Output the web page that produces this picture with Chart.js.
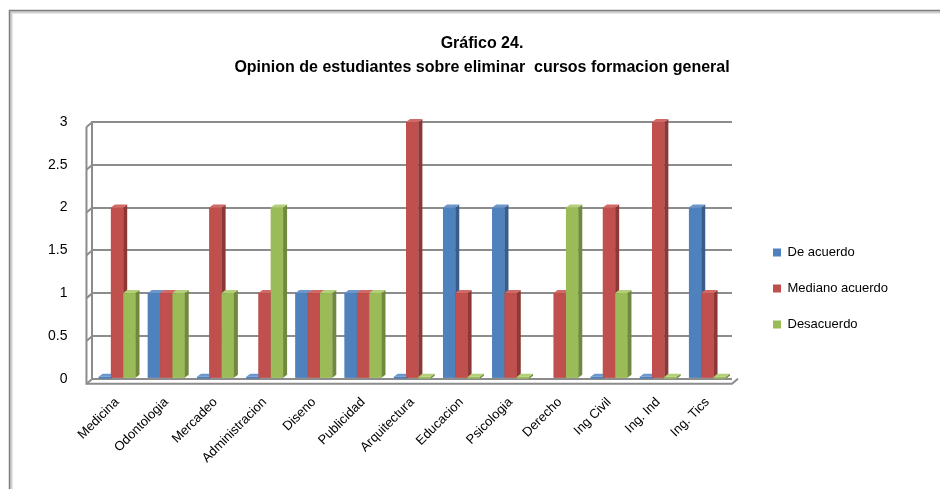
<!DOCTYPE html>
<html>
<head>
<meta charset="utf-8">
<script src="https://cdn.jsdelivr.net/npm/chart.js@4.4.1/dist/chart.umd.min.js"></script>
<style>
  html, body { margin: 0; padding: 0; background: #fff; }
  #wrap { width: 940px; height: 489px; }
</style>
</head>
<body>
<div id="wrap"><canvas id="c" width="940" height="489"></canvas></div>
<script>
// data
const categories = ['Medicina', 'Odontologia', 'Mercadeo', 'Administracion', 'Diseno', 'Publicidad',
  'Arquitectura', 'Educacion', 'Psicologia', 'Derecho', 'Ing Civil', 'Ing. Ind', 'Ing. Tics'];
const deAcuerdo = [0, 1, 0, 0, 1, 1, 0, 2, 2, null, 0, 0, 2];
const medianoAcuerdo = [2, 1, 2, 1, 1, 1, 3, 1, 1, 1, 2, 3, 1];
const desacuerdo = [1, 1, 1, 2, 1, 1, 0, 0, 0, 2, 1, 0, 0];
const seriesNames = ['De acuerdo', 'Mediano acuerdo', 'Desacuerdo'];
const titleLines = ['Gráfico 24.', 'Opinion de estudiantes sobre eliminar  cursos formacion general'];
const yMax = 3;
const yStep = 0.5;

const FONT = "'Liberation Sans', Arial, sans-serif";

// page frame like the office chart border
const frame = {
  id: 'frame',
  beforeDraw(chart) {
    const ctx = chart.ctx;
    ctx.save();
    ctx.fillStyle = '#fff';
    ctx.fillRect(0, 0, chart.width, chart.height);
    ctx.strokeStyle = '#d0d0d0';
    ctx.lineWidth = 3;
    ctx.strokeRect(11, 12, 940, 489);
    ctx.strokeStyle = '#7f7f7f';
    ctx.lineWidth = 1.5;
    ctx.strokeRect(9.5, 10.5, 940, 489);
    ctx.restore();
  },
  // move title and legend to where the reference has them
  afterLayout(chart) {
    const t = chart.titleBlock;
    t.left = 24; t.right = 940; t.width = 916;
    const lg = chart.legend;
    const w = lg.width;
    lg.left = 750; lg.right = 750 + w;
    lg.top = 223; lg.bottom = 480;
  }
};

// little 3D touches: wall stubs on grid lines, bar sides and tops
const bar3d = {
  id: 'bar3d',
  beforeDatasetsDraw(chart) {
    const ctx = chart.ctx;
    const ys = chart.scales.y;
    const left = chart.chartArea.left;
    ctx.save();
    ctx.strokeStyle = '#8c8c8c';
    ctx.lineWidth = 2;
    ys.ticks.forEach(tk => {
      const py = ys.getPixelForValue(tk.value);
      ctx.beginPath();
      ctx.moveTo(left - 6, py + 5);
      ctx.lineTo(left, py);
      ctx.stroke();
    });
    ctx.beginPath();
    ctx.moveTo(left - 6, ys.getPixelForValue(yMax) + 5);
    ctx.lineTo(left - 6, ys.getPixelForValue(0) + 5);
    ctx.lineTo(chart.chartArea.right, ys.getPixelForValue(0) + 5);
    ctx.lineTo(chart.chartArea.right + 6, ys.getPixelForValue(0));
    ctx.stroke();
    ctx.restore();
  },
  afterDatasetsDraw(chart) {
    const ctx = chart.ctx;
    const d = 4, h = 3;
    ctx.save();
    chart.data.datasets.forEach((ds, i) => {
      const meta = chart.getDatasetMeta(i);
      meta.data.forEach((bar, j) => {
        const v = ds.data[j];
        if (v === null || v === undefined) return;
        const p = bar.getProps(['x', 'y', 'base', 'width'], true);
        const l = p.x - p.width / 2, r = p.x + p.width / 2;
        const top = v === 0 ? p.base - 2 : p.y;
        const base = p.base;
        ctx.fillStyle = ds.backgroundColor;
        ctx.fillRect(l, top, p.width, base - top);
        ctx.fillStyle = ds.sideColor;
        ctx.beginPath();
        ctx.moveTo(r, top); ctx.lineTo(r + d, top - h); ctx.lineTo(r + d, base - h); ctx.lineTo(r, base);
        ctx.closePath(); ctx.fill();
        ctx.fillStyle = ds.topColor;
        ctx.beginPath();
        ctx.moveTo(l, top); ctx.lineTo(l + d, top - h); ctx.lineTo(r + d, top - h); ctx.lineTo(r, top);
        ctx.closePath(); ctx.fill();
      });
    });
    ctx.restore();
  }
};

new Chart(document.getElementById('c'), {
  type: 'bar',
  data: {
    labels: categories,
    datasets: [
      { label: seriesNames[0], data: deAcuerdo, backgroundColor: '#4f81bd', sideColor: '#385d8a', topColor: '#6d97cc' },
      { label: seriesNames[1], data: medianoAcuerdo, backgroundColor: '#c0504d', sideColor: '#8c3836', topColor: '#d16a67' },
      { label: seriesNames[2], data: desacuerdo, backgroundColor: '#9bbb59', sideColor: '#71893f', topColor: '#b3cf78' }
    ]
  },
  options: {
    responsive: false,
    animation: false,
    devicePixelRatio: 1,
    categoryPercentage: 0.75,
    barPercentage: 1.0,
    layout: { padding: { left: 23, right: 208, top: 10, bottom: 15 } },
    plugins: {
      title: {
        display: true,
        text: titleLines,
        color: '#000',
        font: { family: FONT, size: 16, weight: 'bold', lineHeight: 1.5 },
        padding: { top: 22, bottom: 42 }
      },
      legend: {
        position: 'chartArea',
        align: 'start',
        labels: {
          boxWidth: 8,
          boxHeight: 8,
          padding: 23,
          color: '#000',
          font: { family: FONT, size: 13 }
        }
      },
      tooltip: { enabled: false }
    },
    scales: {
      x: {
        grid: { display: false },
        border: { display: false },
        ticks: {
          autoSkip: false,
          maxRotation: 45,
          minRotation: 45,
          padding: 8,
          color: '#000',
          font: { family: FONT, size: 13 }
        }
      },
      y: {
        min: 0,
        max: yMax,
        grid: { color: '#8c8c8c', lineWidth: 2, drawTicks: false },
        border: { display: true, color: '#8c8c8c', width: 2 },
        ticks: {
          stepSize: yStep,
          padding: 25,
          color: '#000',
          font: { family: FONT, size: 14 },
          callback: v => String(v)
        }
      }
    }
  },
  plugins: [frame, bar3d]
});
</script>
</body>
</html>
